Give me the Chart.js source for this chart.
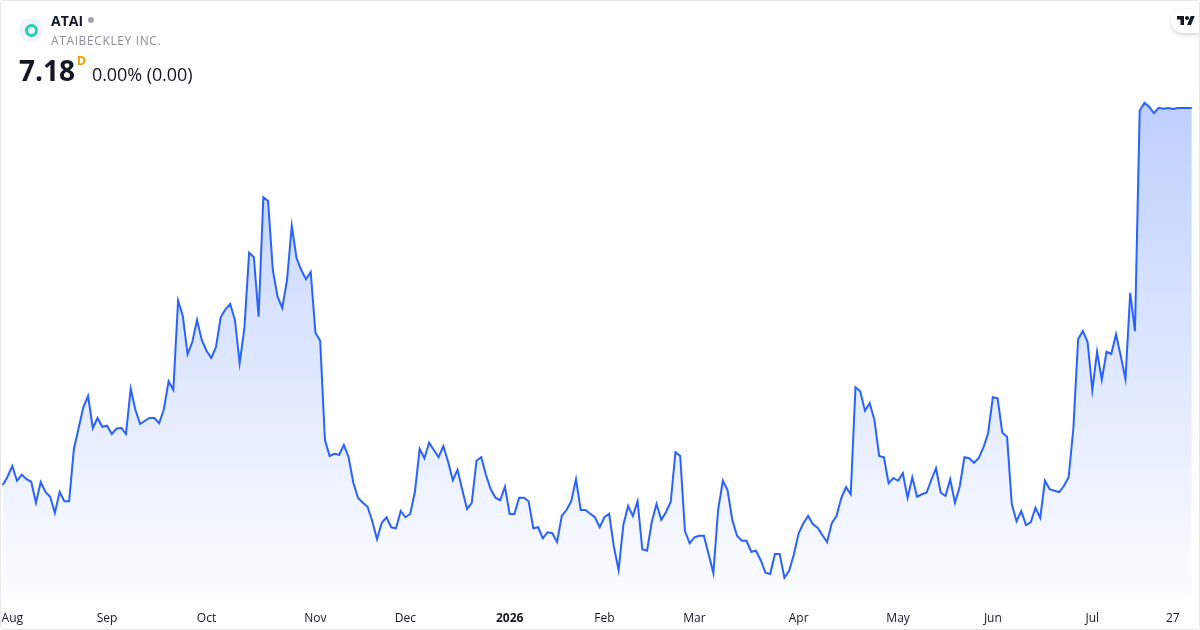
<!DOCTYPE html>
<html>
<head>
<meta charset="utf-8">
<title>ATAI</title>
<script src="https://cdn.jsdelivr.net/npm/chart.js@4/dist/chart.umd.min.js"></script>
<style>
  html, body { margin: 0; padding: 0; background: #fff; }
  body { width: 1200px; height: 630px; position: relative; overflow: hidden; font-family: "Open Sans", "Noto Sans", sans-serif; color: #131722; }
  #myChart { position: absolute; left: 0; top: 0; }
  .frame { position: absolute; inset: 0; border: 1px solid #e8e8e8; border-radius: 4px; box-sizing: border-box; pointer-events: none; }
  .txt { position: absolute; white-space: nowrap; line-height: 1; }
  .icon { position: absolute; left: 19px; top: 18px; width: 24px; height: 24px; border-radius: 50%; background: #f0f3fa; }
  .icon i { position: absolute; left: 5.5px; top: 6px; width: 13px; height: 13px; box-sizing: border-box; border-radius: 50%; border: 3px solid #1fd1b5; }
  .dot { position: absolute; left: 88px; top: 17px; width: 6px; height: 6px; border-radius: 50%; background: #a3a6af; }
  .logo { position: absolute; right: 0; top: 9px; width: 29px; height: 24px; background: #fff; border-radius: 12px 0 0 12px; box-shadow: 0 2px 4px rgba(0,0,0,.16); }
  .logo svg { position: absolute; left: 6px; top: 5px; }
</style>
</head>
<body>
<canvas id="myChart" width="1200" height="630"></canvas>
<div class="icon"><i></i></div>
<div class="txt" style="left:51px;top:14px;font-size:14px;font-weight:700">ATAI</div>
<div class="dot"></div>
<div class="txt" style="left:51px;top:35px;font-size:12px;letter-spacing:.62px;color:#8a8d96">ATAIBECKLEY INC.</div>
<div class="txt" style="left:19px;top:56px;font-size:28px;font-weight:700">7.18</div>
<div class="txt" style="left:77px;top:55px;font-size:12px;font-weight:700;color:#ff9800">D</div>
<div class="txt" style="left:92px;top:65px;font-size:18px;letter-spacing:-.08px">0.00% (0.00)</div>
<div class="logo"><svg width="18" height="14" viewBox="0 0 36 28"><path fill="#131722" d="M14 22H7V11H0V4h14v18zM28 22h-8l7.5-18h8L28 22z"/><circle fill="#131722" cx="20" cy="8" r="4"/></svg></div>
<div class="frame"></div>
<script>
// daily closes, oldest first
const prices = [
  4.164, 4.230, 4.316, 4.198, 4.246, 4.210, 4.190, 4.022, 4.188, 4.108, 4.070, 3.942,
  4.108, 4.034, 4.034, 4.450, 4.618, 4.786, 4.876, 4.620, 4.700, 4.630, 4.638, 4.572,
  4.614, 4.622, 4.572, 4.934, 4.764, 4.652, 4.678, 4.700, 4.700, 4.658, 4.770, 4.994,
  4.924, 5.638, 5.516, 5.210, 5.308, 5.484, 5.324, 5.238, 5.180, 5.266, 5.506, 5.570,
  5.612, 5.484, 5.138, 5.418, 6.022, 5.986, 5.510, 6.466, 6.436, 5.884, 5.670, 5.580,
  5.804, 6.238, 5.980, 5.884, 5.810, 5.868, 5.382, 5.318, 4.524, 4.396, 4.414, 4.406,
  4.484, 4.386, 4.182, 4.060, 4.022, 3.990, 3.874, 3.730, 3.862, 3.906, 3.826, 3.818,
  3.957, 3.906, 3.932, 4.110, 4.452, 4.378, 4.502, 4.444, 4.386, 4.474, 4.350, 4.202,
  4.286, 4.124, 3.972, 4.022, 4.358, 4.386, 4.244, 4.130, 4.062, 4.042, 4.150, 3.932,
  3.932, 4.062, 4.062, 4.034, 3.818, 3.826, 3.738, 3.786, 3.778, 3.708, 3.916, 3.964,
  4.034, 4.210, 3.964, 3.964, 3.934, 3.906, 3.826, 3.906, 3.934, 3.670, 3.482, 3.844,
  3.996, 3.916, 4.034, 3.650, 3.638, 3.868, 4.012, 3.886, 3.946, 4.030, 4.426, 4.396,
  3.796, 3.698, 3.746, 3.758, 3.758, 3.610, 3.460, 3.964, 4.198, 4.122, 3.884, 3.758,
  3.718, 3.718, 3.630, 3.638, 3.562, 3.462, 3.452, 3.612, 3.612, 3.422, 3.478, 3.610,
  3.778, 3.858, 3.916, 3.852, 3.822, 3.764, 3.708, 3.858, 3.916, 4.060, 4.148, 4.090,
  4.946, 4.914, 4.758, 4.818, 4.684, 4.396, 4.386, 4.178, 4.220, 4.198, 4.258, 4.060,
  4.226, 4.070, 4.090, 4.102, 4.204, 4.298, 4.102, 4.076, 4.210, 4.022, 4.150, 4.386,
  4.378, 4.342, 4.378, 4.462, 4.578, 4.866, 4.858, 4.582, 4.550, 4.012, 3.874, 3.954,
  3.844, 3.866, 3.982, 3.900, 4.198, 4.130, 4.118, 4.108, 4.156, 4.226, 4.618, 5.330,
  5.396, 5.308, 4.924, 5.230, 5.004, 5.230, 5.212, 5.370, 5.196, 5.010, 5.702, 5.394,
  7.158, 7.222, 7.190, 7.138, 7.182, 7.174, 7.180, 7.172, 7.180, 7.180, 7.180, 7.180,
];

// x axis: which day each label sits on
const tickDays = [2, 22, 43, 66, 85, 107, 127, 146, 168, 189, 209, 230, 247];
const tickLabels = ["Aug", "Sep", "Oct", "Nov", "Dec", "2026", "Feb", "Mar", "Apr", "May", "Jun", "Jul", "27"];

const points = prices.map((value, day) => ({ x: day, y: value }));

const config = {
  type: "line",
  data: {
    datasets: [
      {
        data: points,
        borderColor: "#2962ff",
        borderWidth: 2,
        borderJoinStyle: "miter",
        pointRadius: 0,
        tension: 0,
        fill: "start",
        backgroundColor: (context) => {
          const { ctx, chartArea } = context.chart;
          if (!chartArea) return "transparent";
          const g = ctx.createLinearGradient(0, 100, 0, chartArea.bottom);
          g.addColorStop(0, "rgba(41, 98, 255, 0.30)");
          g.addColorStop(1, "rgba(41, 98, 255, 0.01)");
          return g;
        },
      },
    ],
  },
  options: {
    responsive: false,
    animation: false,
    layout: { padding: 0 },
    plugins: { legend: false, tooltip: { enabled: false } },
    scales: {
      x: {
        type: "linear",
        min: -0.591,
        max: 252.73,
        grid: { display: false },
        border: { display: false },
        // keep the plot flush with the canvas edges
        afterFit: (scale) => {
          scale.height = 30;
          scale.paddingLeft = 0;
          scale.paddingRight = 0;
        },
        afterBuildTicks: (scale) => { scale.ticks = tickDays.map((d) => ({ value: d })); },
        ticks: {
          autoSkip: false,
          maxRotation: 0,
          padding: 3,
          color: "#131722",
          font: (c) => ({
            family: "'Open Sans', 'Noto Sans', sans-serif",
            size: 12,
            weight: c.tick && c.tick.value === 107 ? "700" : "400",
          }),
          callback: (value) => tickLabels[tickDays.indexOf(value)],
        },
      },
      y: {
        display: false,
        min: 3.244,
        max: 8.044,
      },
    },
  },
};

const chart = new Chart(document.getElementById("myChart").getContext("2d"), config);
</script>
</body>
</html>
